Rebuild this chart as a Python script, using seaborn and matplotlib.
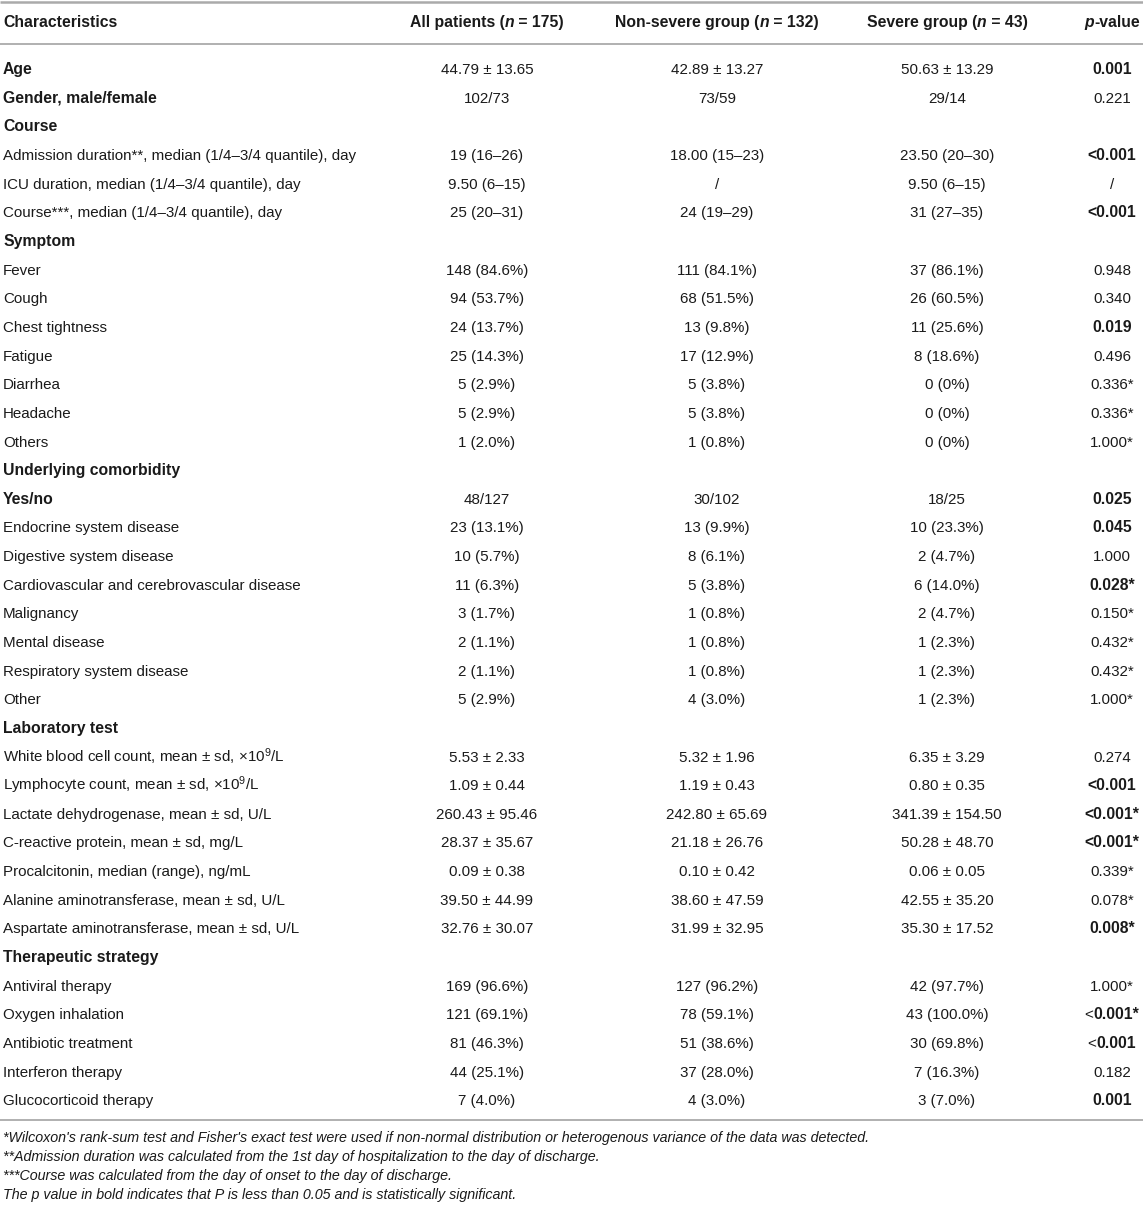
import matplotlib
matplotlib.use("Agg")
import matplotlib.pyplot as plt
import seaborn as sns

sns.set_theme(style="white")
plt.rcParams['font.family'] = ['Liberation Sans', 'DejaVu Sans']
plt.rcParams['mathtext.fontset'] = 'custom'
plt.rcParams['mathtext.rm'] = 'Liberation Sans'
plt.rcParams['mathtext.it'] = 'Liberation Sans:italic'
plt.rcParams['mathtext.bf'] = 'Liberation Sans:bold'

# ---------------- data ----------------
headers = [
    [("Characteristics", "normal")],
    [("All patients (", "normal"), ("n", "italic"), (" = 175)", "normal")],
    [("Non-severe group (", "normal"), ("n", "italic"), (" = 132)", "normal")],
    [("Severe group (", "normal"), ("n", "italic"), (" = 43)", "normal")],
    [("p", "italic"), ("-value", "normal")],
]

labels = [
    "Age", "Gender, male/female", "Course",
    "Admission duration**, median (1/4–3/4 quantile), day",
    "ICU duration, median (1/4–3/4 quantile), day",
    "Course***, median (1/4–3/4 quantile), day",
    "Symptom", "Fever", "Cough", "Chest tightness", "Fatigue", "Diarrhea",
    "Headache", "Others",
    "Underlying comorbidity", "Yes/no", "Endocrine system disease",
    "Digestive system disease", "Cardiovascular and cerebrovascular disease",
    "Malignancy", "Mental disease", "Respiratory system disease", "Other",
    "Laboratory test",
    "White blood cell count, mean ± sd, ×10$^9$/L",
    "Lymphocyte count, mean ± sd, ×10$^9$/L",
    "Lactate dehydrogenase, mean ± sd, U/L",
    "C-reactive protein, mean ± sd, mg/L",
    "Procalcitonin, median (range), ng/mL",
    "Alanine aminotransferase, mean ± sd, U/L",
    "Aspartate aminotransferase, mean ± sd, U/L",
    "Therapeutic strategy", "Antiviral therapy", "Oxygen inhalation",
    "Antibiotic treatment", "Interferon therapy", "Glucocorticoid therapy",
]

all_patients = [
    "44.79 ± 13.65", "102/73", "", "19 (16–26)", "9.50 (6–15)", "25 (20–31)",
    "", "148 (84.6%)", "94 (53.7%)", "24 (13.7%)", "25 (14.3%)", "5 (2.9%)",
    "5 (2.9%)", "1 (2.0%)",
    "", "48/127", "23 (13.1%)", "10 (5.7%)", "11 (6.3%)", "3 (1.7%)",
    "2 (1.1%)", "2 (1.1%)", "5 (2.9%)",
    "", "5.53 ± 2.33", "1.09 ± 0.44", "260.43 ± 95.46", "28.37 ± 35.67",
    "0.09 ± 0.38", "39.50 ± 44.99", "32.76 ± 30.07",
    "", "169 (96.6%)", "121 (69.1%)", "81 (46.3%)", "44 (25.1%)", "7 (4.0%)",
]

non_severe = [
    "42.89 ± 13.27", "73/59", "", "18.00 (15–23)", "/", "24 (19–29)",
    "", "111 (84.1%)", "68 (51.5%)", "13 (9.8%)", "17 (12.9%)", "5 (3.8%)",
    "5 (3.8%)", "1 (0.8%)",
    "", "30/102", "13 (9.9%)", "8 (6.1%)", "5 (3.8%)", "1 (0.8%)",
    "1 (0.8%)", "1 (0.8%)", "4 (3.0%)",
    "", "5.32 ± 1.96", "1.19 ± 0.43", "242.80 ± 65.69", "21.18 ± 26.76",
    "0.10 ± 0.42", "38.60 ± 47.59", "31.99 ± 32.95",
    "", "127 (96.2%)", "78 (59.1%)", "51 (38.6%)", "37 (28.0%)", "4 (3.0%)",
]

severe = [
    "50.63 ± 13.29", "29/14", "", "23.50 (20–30)", "9.50 (6–15)", "31 (27–35)",
    "", "37 (86.1%)", "26 (60.5%)", "11 (25.6%)", "8 (18.6%)", "0 (0%)",
    "0 (0%)", "0 (0%)",
    "", "18/25", "10 (23.3%)", "2 (4.7%)", "6 (14.0%)", "2 (4.7%)",
    "1 (2.3%)", "1 (2.3%)", "1 (2.3%)",
    "", "6.35 ± 3.29", "0.80 ± 0.35", "341.39 ± 154.50", "50.28 ± 48.70",
    "0.06 ± 0.05", "42.55 ± 35.20", "35.30 ± 17.52",
    "", "42 (97.7%)", "43 (100.0%)", "30 (69.8%)", "7 (16.3%)", "3 (7.0%)",
]

p_values = [
    "0.001", "0.221", "", "<0.001", "/", "<0.001",
    "", "0.948", "0.340", "0.019", "0.496", "0.336*", "0.336*", "1.000*",
    "", "0.025", "0.045", "1.000", "0.028*", "0.150*", "0.432*", "0.432*",
    "1.000*",
    "", "0.274", "<0.001", "<0.001*", "<0.001*", "0.339*", "0.078*", "0.008*",
    "", "1.000*", "<0.001*", "<0.001", "0.182", "0.001",
]

bold_labels = {"Age", "Gender, male/female", "Course", "Symptom",
               "Underlying comorbidity", "Yes/no", "Laboratory test",
               "Therapeutic strategy"}
plain_lt_rows = {"Oxygen inhalation", "Antibiotic treatment"}

footnotes = [
    "*Wilcoxon's rank-sum test and Fisher's exact test were used if non-normal distribution or heterogenous variance of the data was detected.",
    "**Admission duration was calculated from the 1st day of hospitalization to the day of discharge.",
    "***Course was calculated from the day of onset to the day of discharge.",
    "The p value in bold indicates that P is less than 0.05 and is statistically significant.",
]

# ---------------- figure ----------------
W, H = 1143, 1211
DPI = 100
fig = plt.figure(figsize=(W / DPI, H / DPI), dpi=DPI)
fig.patch.set_facecolor("white")
ax = fig.add_axes([0, 0, 1, 1])
ax.set_xlim(0, W)
ax.set_ylim(H, 0)
ax.axis("off")
sns.despine(ax=ax, left=True, bottom=True)

renderer = fig.canvas.get_renderer()
FS = 10.9
FSB = 11.3
FSN = 10.25
TXT = "#1a1a1a"
LINE = "#aaaaaa"
BASE = 5.2   # baseline offset below the row centre, pixels


def is_sig(p):
    s = p.replace("<", "").replace("*", "")
    try:
        return float(s) < 0.05
    except ValueError:
        return False


def seg_text(x, y, segs, ha="center", weight="normal", color=TXT):
    arts, widths = [], []
    for s, style in segs:
        w = weight
        st = "normal"
        if style == "italic":
            st = "italic"
        elif style == "bold":
            w = "bold"
        elif style == "regular":
            w = "normal"
        size = FSB if w == "bold" else FS
        t = ax.text(0, y + BASE, s, ha="left", va="baseline", fontsize=size,
                    fontweight=w, fontstyle=st, color=color)
        bb = t.get_window_extent(renderer=renderer)
        arts.append(t)
        widths.append(bb.width)
    total = sum(widths)
    if ha == "center":
        start = x - total / 2
    elif ha == "right":
        start = x - total
    else:
        start = x
    for t, w in zip(arts, widths):
        t.set_x(start)
        start += w


col_x = [3, 487, 717, 947, 1112]
header_y = 22
row0 = 69
dy = (1100 - 69) / 36

# lines
ax.plot([0, W], [2, 2], color=LINE, lw=1.8, solid_capstyle="butt")
ax.plot([0, W], [44, 44], color=LINE, lw=1.3, solid_capstyle="butt")
ax.plot([0, W], [1120, 1120], color=LINE, lw=1.3, solid_capstyle="butt")

# header
for i, segs in enumerate(headers):
    seg_text(col_x[i], header_y, segs, ha="left" if i == 0 else "center",
             weight="bold")

# rows
for r, lab in enumerate(labels):
    y = row0 + r * dy
    isb = lab in bold_labels
    ax.text(col_x[0], y + BASE, lab, ha="left", va="baseline",
            fontsize=FSB if isb else FS,
            fontweight="bold" if isb else "normal", color=TXT)
    for c, col in enumerate([all_patients, non_severe, severe], start=1):
        if col[r]:
            ax.text(col_x[c], y + BASE, col[r], ha="center", va="baseline",
                    fontsize=FS, color=TXT)
    p = p_values[r]
    if p:
        if is_sig(p):
            if lab in plain_lt_rows and p.startswith("<"):
                seg_text(col_x[4], y, [("<", "regular"), (p[1:], "bold")])
            else:
                seg_text(col_x[4], y, [(p, "bold")])
        else:
            seg_text(col_x[4], y, [(p, "regular")])

# footnotes
fy0 = 1137
fdy = 19.3
for i, fn in enumerate(footnotes):
    ax.text(3, fy0 + i * fdy + 4.6, fn, ha="left", va="baseline",
            fontsize=FSN, fontstyle="italic", color=TXT)

fig.savefig("out.png", dpi=DPI, facecolor="white")
